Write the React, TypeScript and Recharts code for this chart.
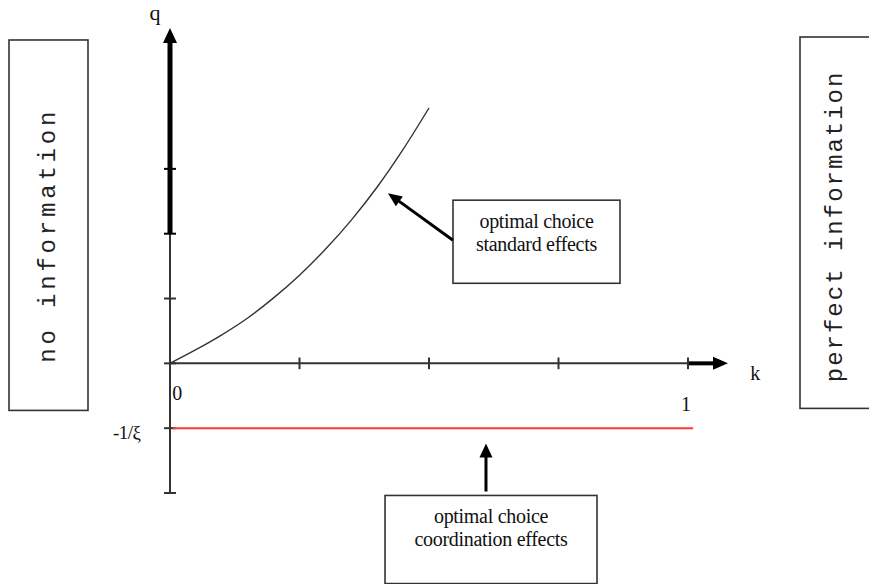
import React from 'react';
import { ComposedChart, Line, XAxis, YAxis, ReferenceLine, ReferenceArea, ReferenceDot } from 'recharts';

// ---- data ----
const kValues = [0, 0.05, 0.1, 0.15, 0.2, 0.25, 0.3, 0.35, 0.4, 0.45, 0.5];
const standardQ = [0, 0.21, 0.44, 0.7, 1.01, 1.36, 1.76, 2.21, 2.72, 3.3, 3.94];
const coordinationK = [0.006, 1.01];
const coordinationQ = [-1, -1];
const xTicks = [0.25, 0.5, 0.75, 1];
const yTicks = [-2, -1, 0, 1, 2, 3];
const xTickLabels = ['0', '1'];
const xTickLabelValues = [0, 1];
const yTickLabel = '-1/ξ';
const yTickLabelValue = -1;
const xAxisTitle = 'k';
const yAxisTitle = 'q';
const standardBoxLines = ['optimal choice', 'standard effects'];
const coordinationBoxLines = ['optimal choice', 'coordination effects'];
const leftBoxText = 'no information';
const rightBoxText = 'perfect information';

const standardData = kValues.map((k, i) => ({ k, q: standardQ[i] }));
const coordinationData = coordinationK.map((k, i) => ({ k, q: coordinationQ[i] }));

const X_MIN = 0;
const X_MAX = 1.0772;
const Y_MIN = -2;
const Y_MAX = 5.173;

const AXIS = '#333';
const SERIF = '"Liberation Serif", "Times New Roman", serif';
const MONO = '"Liberation Mono", "Courier New", monospace';

const arrowShape = (sw: number, len: number, wid: number, color = '#000') => (p: any) => {
  const x1 = Number(p.x1), y1 = Number(p.y1), x2 = Number(p.x2), y2 = Number(p.y2);
  const dx = x2 - x1, dy = y2 - y1;
  const L = Math.hypot(dx, dy) || 1;
  const ux = dx / L, uy = dy / L;
  const bx = x2 - ux * len, by = y2 - uy * len;
  const px = -uy, py = ux;
  return (
    <g>
      <line x1={x1} y1={y1} x2={x2 - ux * len * 0.6} y2={y2 - uy * len * 0.6} stroke={color} strokeWidth={sw} />
      <polygon
        points={`${x2},${y2} ${bx + (px * wid) / 2},${by + (py * wid) / 2} ${bx - (px * wid) / 2},${by - (py * wid) / 2}`}
        fill={color}
      />
    </g>
  );
};

const textBox = (lines: string[], firstLineOffset: number) => (p: any) => {
  const x = Number(p.x), y = Number(p.y), w = Number(p.width), h = Number(p.height);
  return (
    <g>
      <rect x={x} y={y} width={w} height={h} fill="#fff" stroke={AXIS} strokeWidth={1.6} />
      {lines.map((t, i) => (
        <text
          key={i}
          x={x + w / 2}
          y={y + firstLineOffset + i * 23}
          textAnchor="middle"
          fontFamily={SERIF}
          fontSize={20}
          fill="#111"
          style={{ letterSpacing: '-0.3px' }}
        >
          {t}
        </text>
      ))}
    </g>
  );
};

const verticalBox = (text: string, baseX: number, centerFrac: number, fontSize: number, spacing: number) => (p: any) => {
  const x = Number(p.x), y = Number(p.y), w = Number(p.width), h = Number(p.height);
  const tx = x + baseX;
  const ty = y + h * centerFrac;
  return (
    <g>
      <rect x={x} y={y} width={w} height={h} fill="#fff" stroke={AXIS} strokeWidth={1.6} />
      <text
        transform={`translate(${tx},${ty}) rotate(-90)`}
        textAnchor="middle"
        fontFamily={MONO}
        fontSize={fontSize}
        fill="#222"
        style={{ letterSpacing: `${spacing}px` }}
      >
        {text}
      </text>
    </g>
  );
};

const labelShape = (text: string, anchor: 'start' | 'middle' | 'end', size: number, extra: any = {}) => (p: any) => (
  <text x={Number(p.cx)} y={Number(p.cy)} textAnchor={anchor} fontFamily={SERIF} fontSize={size} fill="#111" {...extra}>
    {text}
  </text>
);

const xLabelOffsets = [{ dk: 0.014, dq: -0.56 }, { dk: -0.004, dq: -0.74 }];

export default function App() {
  return (
    <div style={{ position: 'absolute', left: 0, top: 0, width: 869, height: 584, background: '#fff' }}>
      <ComposedChart width={869} height={584} margin={{ top: 28, right: 141, bottom: 91, left: 170 }}>
        <XAxis type="number" dataKey="k" domain={[X_MIN, X_MAX]} allowDataOverflow hide />
        <YAxis type="number" dataKey="q" domain={[Y_MIN, Y_MAX]} allowDataOverflow hide />

        {/* side boxes */}
        <ReferenceArea x1={-0.3108} x2={-0.1583} y1={-0.726} y2={4.988} ifOverflow="visible"
          shape={verticalBox(leftBoxText, 46, 0.527, 24, 3.8)} />
        <ReferenceArea x1={1.2162} x2={1.3707} y1={-0.695} y2={5.034} ifOverflow="visible"
          shape={verticalBox(rightBoxText, 42, 0.51, 24, 2.0)} />

        {/* axes */}
        <ReferenceLine segment={[{ x: 0, y: 0 }, { x: 1, y: 0 }]} stroke={AXIS} strokeWidth={2} ifOverflow="visible" />
        <ReferenceLine segment={[{ x: 1, y: 0 }, { x: X_MAX, y: 0 }]} ifOverflow="visible" shape={arrowShape(4, 15, 13)} />
        <ReferenceLine segment={[{ x: 0, y: Y_MIN }, { x: 0, y: 2 }]} stroke={AXIS} strokeWidth={2} ifOverflow="visible" />
        <ReferenceLine segment={[{ x: 0, y: 2 }, { x: 0, y: Y_MAX }]} ifOverflow="visible" shape={arrowShape(5, 15, 14)} />
        {xTicks.map((t) => (
          <ReferenceLine key={'xt' + t} segment={[{ x: t, y: -0.09 }, { x: t, y: 0.09 }]} stroke={AXIS} strokeWidth={2} ifOverflow="visible" />
        ))}
        {yTicks.map((t) => (
          <ReferenceLine key={'yt' + t} segment={[{ x: -0.0116, y: t }, { x: 0.0116, y: t }]} stroke={t >= 2 ? '#000' : AXIS} strokeWidth={2} ifOverflow="visible" />
        ))}

        {/* series */}
        <Line data={standardData} dataKey="q" type="monotone" stroke="#333" strokeWidth={1.4} dot={false} isAnimationActive={false} />
        <Line data={coordinationData} dataKey="q" type="linear" stroke="#ff3838" strokeWidth={2} dot={false} isAnimationActive={false} />

        {/* annotation boxes and arrows */}
        <ReferenceArea x1={0.5463} x2={0.8687} y1={1.235} y2={2.517} ifOverflow="visible" shape={textBox(standardBoxLines, 28)} />
        <ReferenceArea x1={0.4151} x2={0.8243} y1={-3.397} y2={-2.038} ifOverflow="visible" shape={textBox(coordinationBoxLines, 28)} />
        <ReferenceLine segment={[{ x: 0.5463, y: 1.899 }, { x: 0.4208, y: 2.625 }]} ifOverflow="visible" shape={arrowShape(3, 14, 12)} />
        <ReferenceLine segment={[{ x: 0.61, y: -1.977 }, { x: 0.61, y: -1.235 }]} ifOverflow="visible" shape={arrowShape(3, 14, 13)} />

        {/* axis labels */}
        {xTickLabels.map((t, i) => (
          <ReferenceDot key={'xl' + t} x={xTickLabelValues[i] + xLabelOffsets[i].dk} y={xLabelOffsets[i].dq} r={1} ifOverflow="visible"
            shape={labelShape(t, 'middle', 20)} />
        ))}
        <ReferenceDot x={-0.057} y={yTickLabelValue - 0.16} r={1} ifOverflow="visible"
          shape={labelShape(yTickLabel, 'end', 19, { style: { letterSpacing: '-0.5px' } })} />
        <ReferenceDot x={1.13} y={-0.25} r={1} ifOverflow="visible" shape={labelShape(xAxisTitle, 'middle', 20)} />
        <ReferenceDot x={-0.029} y={5.3} r={1} ifOverflow="visible" shape={labelShape(yAxisTitle, 'middle', 22)} />
      </ComposedChart>
    </div>
  );
}
